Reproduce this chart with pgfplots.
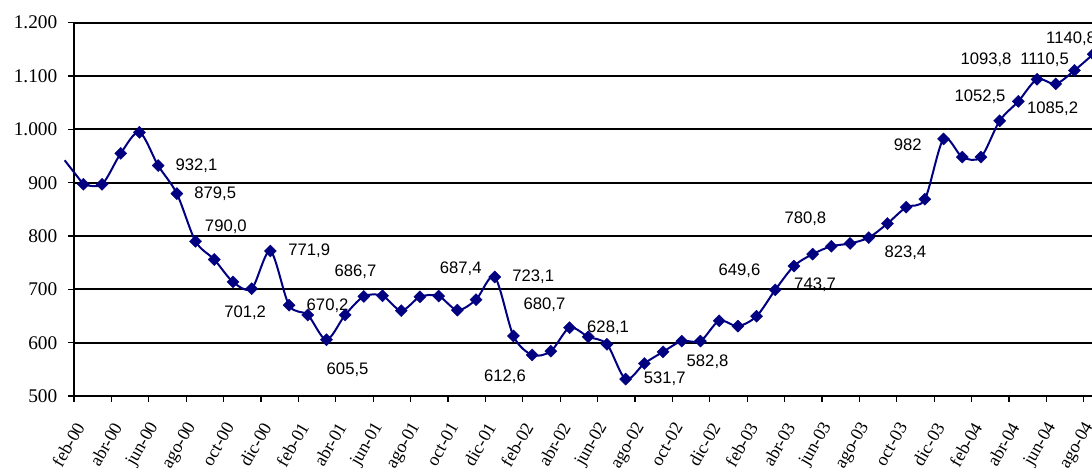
\documentclass[border=0pt]{standalone}
\usepackage{fontspec}
\setmainfont{Liberation Serif}
\newfontfamily\arialfont{Liberation Sans}
\usepackage{pgfplots}
\pgfplotsset{compat=1.18}
\definecolor{navy}{RGB}{0,0,128}
\newcommand{\dl}{\arialfont\fontsize{12.5}{15}\selectfont}
\begin{document}
\begin{tikzpicture}
\useasboundingbox (-55.5pt,-57pt) rectangle (763.5pt,297pt);
\clip (-55.5pt,-57pt) rectangle (763.5pt,297pt);
\begin{axis}[
  at={(0pt,0pt)}, anchor=south west,
  x=14.025pt, y=0.4pt,
  xmin=0, xmax=57, ymin=500, ymax=1200,
  axis x line*=bottom, axis y line*=left,
  axis line style={-, black, line width=0.9pt},
  clip=false,
  ytick={500,600,...,1200},
  yticklabels={500,600,700,800,900,1.000,1.100,1.200},
  ymajorgrids, grid style={black, line width=1.3pt},
  tick align=outside, major tick length=4.3pt,
  tick style={black, line width=0.8pt},
  xtick={0,2,...,54}, xticklabels={},
  extra x ticks={0.5,2.5,...,54.5},
  extra x tick labels={feb-00,abr-00,jun-00,ago-00,oct-00,dic-00,feb-01,abr-01,jun-01,ago-01,oct-01,dic-01,feb-02,abr-02,jun-02,ago-02,oct-02,dic-02,feb-03,abr-03,jun-03,ago-03,oct-03,dic-03,feb-04,abr-04,jun-04,ago-04},
  extra x tick style={major tick length=0pt, grid=none},
  xticklabel style={font=\fontsize{13.5}{16}\selectfont, anchor=east, inner sep=0pt, xshift=-2.5pt, yshift=-21pt, rotate=60},
  yticklabel style={font=\fontsize{14.5}{17}\selectfont, anchor=east, inner sep=0pt, xshift=-8pt},
]
\addplot[navy, line width=1.5pt, no markers] coordinates {(-0.5,942) (0.5,897)};
\addplot[navy, line width=1.5pt, smooth, tension=0.5, mark=square*, mark size=3.2pt,
  mark options={rotate=45, solid, fill=navy, line width=0.3pt}] coordinates {
(0.5,897) (1.5,897) (2.5,955) (3.5,994.5) (4.5,932.1) (5.5,879.5) (6.5,790.0)
(7.5,756) (8.5,714) (9.5,701.2) (10.5,771.9) (11.5,670.2) (12.5,652) (13.5,605.5)
(14.5,652) (15.5,686.7) (16.5,688) (17.5,660) (18.5,686) (19.5,687.4) (20.5,661)
(21.5,680.7) (22.5,723.1) (23.5,612.6) (24.5,577) (25.5,584) (26.5,628.1) (27.5,611)
(28.5,597) (29.5,531.7) (30.5,561) (31.5,582.8) (32.5,603) (33.5,603) (34.5,641)
(35.5,631) (36.5,649.6) (37.5,699) (38.5,743.7) (39.5,766) (40.5,780.8) (41.5,786)
(42.5,797) (43.5,823.4) (44.5,854) (45.5,869) (46.5,982) (47.5,948) (48.5,948)
(49.5,1016) (50.5,1052.5) (51.5,1093.8) (52.5,1085.2) (53.5,1110.5) (54.5,1140.8)
};
\node[font=\dl, inner sep=0pt] at (axis cs:6.55,932) {932,1};
\node[font=\dl, inner sep=0pt] at (axis cs:7.55,879) {879,5};
\node[font=\dl, inner sep=0pt] at (axis cs:8.12,817.5) {790,0};
\node[font=\dl, inner sep=0pt] at (axis cs:12.58,772.5) {771,9};
\node[font=\dl, inner sep=0pt] at (axis cs:9.15,656.2) {701,2};
\node[font=\dl, inner sep=0pt] at (axis cs:13.56,670) {670,2};
\node[font=\dl, inner sep=0pt] at (axis cs:14.63,548.8) {605,5};
\node[font=\dl, inner sep=0pt] at (axis cs:15.05,733.1) {686,7};
\node[font=\dl, inner sep=0pt] at (axis cs:20.68,738.2) {687,4};
\node[font=\dl, inner sep=0pt] at (axis cs:24.56,723.7) {723,1};
\node[font=\dl, inner sep=0pt] at (axis cs:25.16,670.7) {680,7};
\node[font=\dl, inner sep=0pt] at (axis cs:23.05,536.2) {612,6};
\node[font=\dl, inner sep=0pt] at (axis cs:28.56,628.8) {628,1};
\node[font=\dl, inner sep=0pt] at (axis cs:31.59,533.2) {531,7};
\node[font=\dl, inner sep=0pt] at (axis cs:33.88,564.4) {582,8};
\node[font=\dl, inner sep=0pt] at (axis cs:35.59,734.4) {649,6};
\node[font=\dl, inner sep=0pt] at (axis cs:39.63,709.5) {743,7};
\node[font=\dl, inner sep=0pt] at (axis cs:39.11,833.2) {780,8};
\node[font=\dl, inner sep=0pt] at (axis cs:44.46,769.5) {823,4};
\node[font=\dl, inner sep=0pt] at (axis cs:44.59,970.7) {982};
\node[font=\dl, inner sep=0pt] at (axis cs:48.45,1061.2) {1052,5};
\node[font=\dl, inner sep=0pt] at (axis cs:48.77,1131.4) {1093,8};
\node[font=\dl, inner sep=0pt] at (axis cs:52.33,1038.2) {1085,2};
\node[font=\dl, inner sep=0pt] at (axis cs:51.9,1131.4) {1110,5};
\node[font=\dl, inner sep=0pt] at (axis cs:53.32,1169.4) {1140,8};
\end{axis}
\end{tikzpicture}
\end{document}
